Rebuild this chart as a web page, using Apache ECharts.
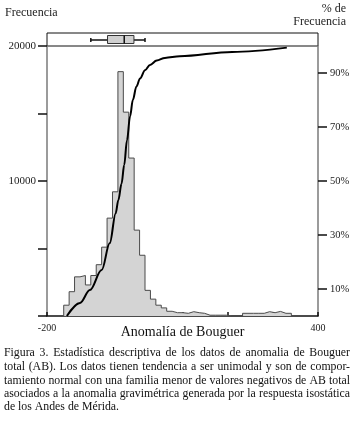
<!DOCTYPE html>
<html><head><meta charset="utf-8">
<script src="https://cdn.jsdelivr.net/npm/echarts@6/dist/echarts.min.js"></script>
<style>html,body{margin:0;padding:0;background:#fff}#c{width:358px;height:422px}</style>
</head><body><div id="c"></div>
<script>
// ---- data ----
const binStart = -163;
const binWidth = 12;
const binCounts = [800, 1800, 2900, 3000, 2300, 3000, 3800, 5100, 7250, 9200,
  18100, 15100, 11700, 6360, 4500, 1900, 1250, 800, 600, 350,
  245, 245, 200, 320, 245, 200, 60, 60, 60, 60,
  0, 0, 0, 200, 200, 200, 200, 320, 245, 340, 200, 200];
const curveX   = [-156, -127, -105, -79, -61, -48, -42, -35, -29, -23, -16, -10, -2, 6, 17, 28, 43, 61, 94, 210, 331];
const curvePct = [0, 4.8, 9.6, 17, 27, 38, 43, 49, 56, 65, 74, 80, 85, 88, 91, 93, 94.6, 95.6, 96.2, 97.8, 99.4];
const boxStats = [-103, -66, -29, -7.5, 17]; // min, Q1, median, Q3, max
const xTickLabels = [-200, 400];
const leftTickLabels = [10000, 20000];
const rightTicks = [10, 30, 50, 70, 90];
const leftTitle = 'Frecuencia';
const rightTitle = ['% de', 'Frecuencia'];
const xTitle = 'Anomalía de Bouguer';
const captionLines = [
  'Figura 3. Estadística descriptiva de los datos de anomalia de Bouguer',
  'total (AB). Los datos tienen tendencia a ser unimodal y son de compor-',
  'tamiento normal con una familia menor de valores negativos de AB total',
  'asociados a la anomalia gravimétrica generada por la respuesta isostática',
  'de los Andes de Mérida.'
];

// ---- build ----
const serif = '"Liberation Serif", "Times New Roman", serif';
const histData = [[binStart, 0]];
binCounts.forEach((c, i) => histData.push([binStart + i * binWidth, c]));
histData.push([binStart + binCounts.length * binWidth, 0]);
const curveData = curveX.map((x, i) => [x, curvePct[i]]);

// caption justified word layout
const ctx = document.createElement('canvas').getContext('2d');
const capLeft = 4, capRight = 350, capW = capRight - capLeft;
ctx.font = '12px ' + serif;
let maxNat = 0;
captionLines.forEach(l => { maxNat = Math.max(maxNat, ctx.measureText(l).width); });
const capSize = Math.min(12, 12 * (capW - 2) / maxNat);
ctx.font = capSize + 'px ' + serif;
const capFont = capSize + 'px ' + serif;
const capY = [353, 367, 381, 394, 407];
const graphics = [];
captionLines.forEach((line, li) => {
  const words = line.split(' ');
  const widths = words.map(w => ctx.measureText(w).width);
  const total = widths.reduce((a, b) => a + b, 0);
  const last = li === captionLines.length - 1;
  const gap = last ? ctx.measureText(' ').width : (capW - total) / (words.length - 1);
  let x = capLeft;
  words.forEach((w, wi) => {
    graphics.push({type: 'text', x: x, y: capY[li],
      style: {text: w, font: capFont, fill: '#111', textAlign: 'left', textVerticalAlign: 'middle'}});
    x += widths[wi] + gap;
  });
});
graphics.push({type: 'text', x: 5, y: 13, style: {text: leftTitle, font: '12px ' + serif, fill: '#222', textAlign: 'left', textVerticalAlign: 'middle'}});
graphics.push({type: 'text', x: 346, y: 9, style: {text: rightTitle[0], font: '12px ' + serif, fill: '#222', textAlign: 'right', textVerticalAlign: 'middle'}});
graphics.push({type: 'text', x: 346, y: 22, style: {text: rightTitle[1], font: '12px ' + serif, fill: '#222', textAlign: 'right', textVerticalAlign: 'middle'}});

const labelStyle = {fontFamily: serif, fontSize: 11, color: '#222'};
const option = {
  animation: false,
  backgroundColor: '#fff',
  grid: [
    {left: 47, right: 40, top: 46, bottom: 106},
    {left: 47, right: 40, top: 33, height: 13, show: true, borderColor: '#111', borderWidth: 1, backgroundColor: 'transparent'}
  ],
  xAxis: [
    {gridIndex: 0, type: 'value', min: -200, max: 400, interval: 100,
     axisLine: {onZero: false, lineStyle: {color: '#111', width: 1.5}},
     axisTick: {inside: true, length: 4, lineStyle: {color: '#111', width: 1.5}},
     axisLabel: {margin: 7, fontFamily: serif, fontSize: 10, color: '#222',
       formatter: v => xTickLabels.includes(v) ? String(v) : ''},
     splitLine: {show: false},
     name: xTitle, nameLocation: 'middle', nameGap: 9, nameMoveOverlap: false,
     nameTextStyle: {fontFamily: serif, fontSize: 14, color: '#111', verticalAlign: 'top'}},
    {gridIndex: 1, type: 'value', min: -200, max: 400, show: false}
  ],
  yAxis: [
    {gridIndex: 0, type: 'value', min: 0, max: 20000, interval: 5000, position: 'left',
     axisLine: {show: true, onZero: false, lineStyle: {color: '#7a7a7a', width: 1.5}},
     axisTick: {show: true, length: 9, lineStyle: {color: '#111', width: 1.5}},
     axisLabel: Object.assign({margin: 11, formatter: v => leftTickLabels.includes(v) ? String(v) : ''}, labelStyle),
     splitLine: {show: false}},
    {gridIndex: 0, type: 'value', min: 0, max: 100, position: 'right',
     axisLine: {show: true, onZero: false, lineStyle: {color: '#7a7a7a', width: 1.5}},
     axisTick: {show: true, length: 9, customValues: rightTicks, lineStyle: {color: '#111', width: 1.5}},
     axisLabel: Object.assign({margin: 12, customValues: rightTicks, formatter: '{value}%'}, labelStyle, {fontSize: 10.5}),
     splitLine: {show: false}},
    {gridIndex: 1, type: 'value', min: 0, max: 1, show: false}
  ],
  series: [
    {type: 'line', xAxisIndex: 0, yAxisIndex: 0, data: histData, step: 'end', symbol: 'none',
     lineStyle: {color: '#4a4a4a', width: 1}, areaStyle: {color: '#d4d4d4', opacity: 1}, z: 2},
    {type: 'line', xAxisIndex: 0, yAxisIndex: 1, data: curveData, smooth: 0.35, smoothMonotone: 'x',
     symbol: 'none', lineStyle: {color: '#000', width: 2}, z: 3},
    {type: 'custom', xAxisIndex: 1, yAxisIndex: 2, data: [boxStats], z: 3,
     renderItem: (params, api) => {
       const y = api.coord([0, 0.5])[1];
       const xs = [0, 1, 2, 3, 4].map(i => api.coord([api.value(i), 0.5])[0]);
       const line = (x1, y1, x2, y2, w) => ({type: 'line', shape: {x1, y1, x2, y2}, style: {stroke: '#111', lineWidth: w}});
       return {type: 'group', children: [
         line(xs[0], y + 0.5, xs[1], y + 0.5, 1.5),
         line(xs[3], y + 0.5, xs[4], y + 0.5, 1.5),
         line(xs[0], y - 1.5, xs[0], y + 2.5, 1.5),
         line(xs[4], y - 1.5, xs[4], y + 2.5, 1.5),
         {type: 'rect', shape: {x: xs[1], y: y - 4, width: xs[3] - xs[1], height: 8},
          style: {fill: '#d0d0d0', stroke: '#333', lineWidth: 1}},
         line(xs[2], y - 4, xs[2], y + 4, 1.5)
       ]};
     }}
  ],
  graphic: graphics
};
const chart = echarts.init(document.getElementById('c'), null, {renderer: 'canvas'});
chart.setOption(option);
</script></body></html>
